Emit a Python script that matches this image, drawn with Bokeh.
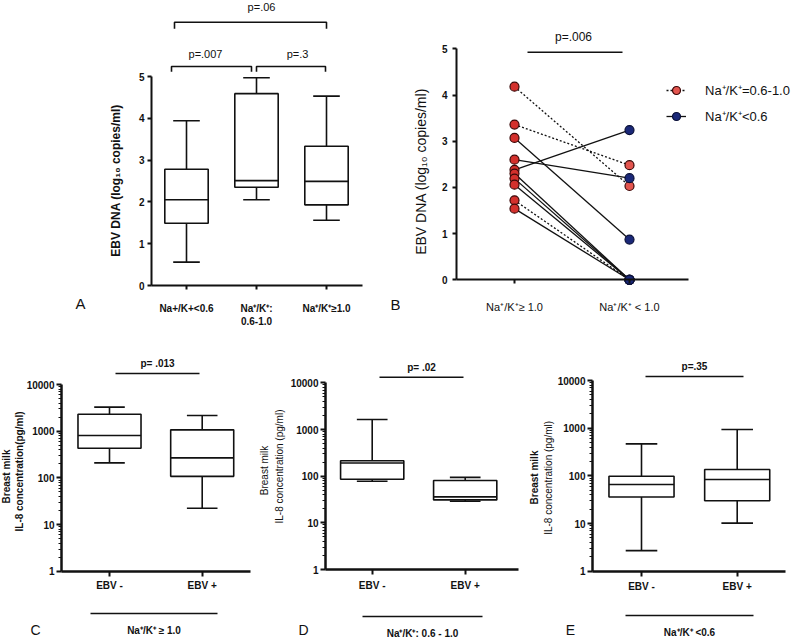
import numpy as np
from bokeh.plotting import figure
from bokeh.models import (Range1d, FixedTicker, PrintfTickFormatter, Legend, LegendItem)
from bokeh.layouts import column, row
from bokeh.embed import file_html
from bokeh.resources import INLINE
from bokeh.core.properties import value

FONT = "Liberation Sans"
INK = "#111111"

# ---------------- Panel A data (EBV DNA, log10 copies/ml) ----------------
a_groups = ["Na+/K+<0.6", "Na⁺/K⁺:\n0.6-1.0", "Na⁺/K⁺≥1.0"]
a_whisk_lo = [0.56, 2.05, 1.56]
a_q1 = [1.49, 2.35, 1.93]
a_median = [2.05, 2.51, 2.49]
a_q3 = [2.78, 4.59, 3.33]
a_whisk_hi = [3.94, 4.97, 4.53]
a_pvalues = ["p=.007", "p=.3", "p=.06"]

# ---------------- Panel B data (paired) ----------------
b_groups = ["Na⁺/K⁺≥ 1.0", "Na⁺/K⁺ < 1.0"]
b_series = ["Na⁺/K⁺=0.6-1.0", "Na⁺/K⁺<0.6"]
b_left_dotted = [4.18, 3.36, 1.72]
b_right_dotted = [2.03, 2.48, 0.0]
b_left_solid = [3.07, 2.60, 2.38, 2.30, 2.19, 2.06, 1.54]
b_right_solid = [0.87, 2.20, 3.24, 0.0, 0.0, 0.0, 0.0]
b_pvalue = "p=.006"

# ---------------- Panels C, D, E data (IL-8, pg/ml) ----------------
il8_groups = ["EBV -", "EBV +"]
c_whisk_lo = [210, 22.4]
c_q1 = [433, 108]
c_median = [809, 269]
c_q3 = [2310, 1070]
c_whisk_hi = [3270, 2170]
d_whisk_lo = [78, 29]
d_q1 = [86, 31]
d_median = [191, 36]
d_q3 = [214, 81]
d_whisk_hi = [1640, 94]
e_whisk_lo = [2.7, 10.2]
e_q1 = [36, 30]
e_median = [66, 84]
e_q3 = [98, 136]
e_whisk_hi = [469, 937]
il8_ticks = [1, 10, 100, 1000, 10000]
ratio_labels = ["Na⁺/K⁺ ≥ 1.0", "Na⁺/K⁺: 0.6 - 1.0", "Na⁺/K⁺ <0.6"]
il8_pvalues = ["p= .013", "p= .02", "p=.35"]


def lin(px, px0, v0, px1, v1):
    return v0 + (px - px0) * (v1 - v0) / (px1 - px0)


def make_fig(wx0, wx1, wy0, wy1, xr, yr, y_type="linear"):
    p = figure(width=wx1 - wx0, height=wy1 - wy0,
               x_range=Range1d(*xr), y_range=Range1d(*yr), y_axis_type=y_type,
               output_backend="svg", toolbar_location=None, title=None,
               min_border=0)
    p.outline_line_color = None
    p.xgrid.visible = False
    p.ygrid.visible = False
    p.background_fill_color = "white"
    p.border_fill_color = "white"
    for ax in (p.xaxis[0], p.yaxis[0]):
        ax.axis_line_color = INK
        ax.major_tick_line_color = INK
        ax.minor_tick_line_color = INK
        ax.major_tick_in = 0
        ax.minor_tick_in = 0
        ax.major_label_text_font = FONT
        ax.major_label_text_color = INK
        ax.major_label_text_font_style = "bold"
    return p


def txt(p, x, y, s, size, style="normal", align="center", angle=0.0, baseline="middle"):
    p.text(x=[x], y=[y], text=[s], text_font=value(FONT), text_font_size=size,
           text_font_style=style, text_align=align, text_baseline=baseline,
           angle=angle, text_color=INK)


def boxes(p, xs, lo, q1, med, q3, hi, w, cw, lw):
    xs = np.asarray(xs, dtype=float)
    p.segment(x0=xs, y0=q3, x1=xs, y1=hi, line_color=INK, line_width=lw)
    p.segment(x0=xs, y0=q1, x1=xs, y1=lo, line_color=INK, line_width=lw)
    p.segment(x0=xs - cw / 2, y0=hi, x1=xs + cw / 2, y1=hi, line_color=INK, line_width=lw)
    p.segment(x0=xs - cw / 2, y0=lo, x1=xs + cw / 2, y1=lo, line_color=INK, line_width=lw)
    p.vbar(x=xs, width=w, bottom=q1, top=q3, fill_color="white", line_color=INK, line_width=lw)
    p.segment(x0=xs - w / 2, y0=med, x1=xs + w / 2, y1=med, line_color=INK, line_width=lw)


# =============== Panel A ===============
ax_ = lambda px: lin(px, 186, 1, 326, 3)
ay_ = lambda py: lin(py, 285, 0, 76, 5)
pA = make_fig(0, 400, 0, 340, (ax_(0), ax_(400)), (ay_(340), ay_(0)))
a_x = list(range(1, len(a_groups) + 1))
xa, ya = pA.xaxis[0], pA.yaxis[0]
xa.fixed_location = 0
xa.bounds = (ax_(151), ax_(362))
xa.ticker = FixedTicker(ticks=a_x)
xa.major_label_overrides = {i: g for i, g in zip(a_x, a_groups)}
xa.major_label_text_font_size = "10px"
xa.major_tick_out = 4
xa.major_label_standoff = 13
xa.axis_line_width = 2
xa.major_tick_line_width = 2
ya.fixed_location = ax_(151)
ya.bounds = (0, 5)
ya.ticker = FixedTicker(ticks=[0, 1, 2, 3, 4, 5])
ya.major_label_text_font_size = "10px"
ya.major_tick_out = 4
ya.major_label_standoff = 3
ya.axis_line_width = 2
ya.major_tick_line_width = 2
boxes(pA, a_x, a_whisk_lo, a_q1, a_median, a_q3, a_whisk_hi, 0.62, 0.38, 1.6)
# significance brackets
yh1, yl1 = ay_(66), ay_(71.3)
yh2, yl2 = ay_(21.7), ay_(28.3)
br = [(ax_(171), ax_(251), yh1, yl1), (ax_(256), ax_(325), yh1, yl1), (ax_(174), ax_(326), yh2, yl2)]
pA.multi_line(xs=[[b[0], b[0], b[1], b[1]] for b in br],
              ys=[[b[3], b[2], b[2], b[3]] for b in br], line_color=INK, line_width=1.6)
for (tx, ty), s in zip([(205, 53), (297, 53), (261, 6)], a_pvalues):
    txt(pA, ax_(tx), ay_(ty), s, "11px")
txt(pA, ax_(115), ay_(180), "EBV DNA (log₁₀ copies/ml)", "12px", "bold", angle=np.pi / 2)
txt(pA, ax_(80), ay_(303), "A", "15px")
txt(pA, ax_(400), ay_(304), "B", "15px", align="right")

# =============== Panel B ===============
bx_ = lambda px: lin(px, 514, 1, 629, 2)
by_ = lambda py: lin(py, 279.3, 0, 48.3, 5)
pB = make_fig(400, 800, 0, 340, (bx_(400), bx_(800)), (by_(340), by_(0)))
xb, yb = pB.xaxis[0], pB.yaxis[0]
xb.fixed_location = 0
xb.bounds = (bx_(456), bx_(688))
xb.ticker = FixedTicker(ticks=[1, 2])
xb.major_label_overrides = {1: b_groups[0], 2: b_groups[1]}
xb.major_label_text_font_style = "normal"
xb.major_label_text_font_size = "11px"
xb.major_tick_out = 4
xb.major_label_standoff = 17
xb.axis_line_width = 2
xb.major_tick_line_width = 2
yb.fixed_location = bx_(456)
yb.bounds = (0, 5)
yb.ticker = FixedTicker(ticks=[0, 1, 2, 3, 4, 5])
yb.major_label_text_font_size = "10px"
yb.major_tick_out = 4
yb.major_label_standoff = 5
yb.axis_line_width = 2
yb.major_tick_line_width = 2
n_d, n_s = len(b_left_dotted), len(b_left_solid)
seg_dot = pB.segment(x0=[1] * n_d, y0=b_left_dotted, x1=[2] * n_d, y1=b_right_dotted,
                     line_color=INK, line_width=1.3, line_dash="2 2")
seg_sol = pB.segment(x0=[1] * n_s, y0=b_left_solid, x1=[2] * n_s, y1=b_right_solid,
                     line_color=INK, line_width=1.3)
pB.scatter(x=[1] * (n_d + n_s), y=b_left_dotted + b_left_solid, size=9,
           fill_color="#d3302c", line_color="#3a0808", line_width=1.2)
sc_red = pB.scatter(x=[2] * n_d, y=b_right_dotted, size=9,
                    fill_color="#e3554f", line_color="#3a0808", line_width=1.2)
sc_blue = pB.scatter(x=[2] * n_s, y=b_right_solid, size=9,
                     fill_color="#1a2878", line_color="#0a1038", line_width=1.2)
pB.segment(x0=[bx_(527)], y0=[by_(51.7)], x1=[bx_(622)], y1=[by_(51.7)], line_color=INK, line_width=1.6)
txt(pB, bx_(573), by_(36), b_pvalue, "12px")
txt(pB, bx_(420), by_(167), "EBV  DNA  (log₁₀ copies/ml)", "14px", angle=np.pi / 2)
legB = Legend(items=[LegendItem(label=b_series[0], renderers=[seg_dot, sc_red]),
                     LegendItem(label=b_series[1], renderers=[seg_sol, sc_blue])],
              location=(266, 214), padding=0, margin=0, spacing=6,
              glyph_width=20, glyph_height=20, label_height=20, label_standoff=19,
              border_line_color=None, background_fill_alpha=0,
              label_text_font=FONT, label_text_font_size="13px", label_text_color=INK)
pB.add_layout(legB)


# =============== Panels C, D, E ===============
def il8_panel(wx0, wx1, xc, yc, axis_x_px, axis_end_px, data, pval, pline, ratio, rline,
              ratio_py, ylabels, std):
    # xc: (px for x=1, px for x=2); yc: (py for 1000, py for 1)
    fx = lambda px: lin(px, xc[0], 1, xc[1], 2)
    fy = lambda py: 10 ** lin(py, yc[1], 0, yc[0], 3)
    p = make_fig(wx0, wx1, 340, 639, (fx(wx0), fx(wx1)), (fy(639), fy(340)), y_type="log")
    xa_, ya_ = p.xaxis[0], p.yaxis[0]
    xa_.fixed_location = 1
    xa_.bounds = (fx(axis_x_px), fx(axis_end_px))
    xa_.ticker = FixedTicker(ticks=[1, 2])
    xa_.major_label_overrides = {1: il8_groups[0], 2: il8_groups[1]}
    xa_.major_label_text_font_size = "10px"
    xa_.major_tick_out = 5
    xa_.major_label_standoff = std
    xa_.axis_line_width = 2.5
    xa_.major_tick_line_width = 2
    ya_.fixed_location = fx(axis_x_px)
    ya_.bounds = (1, 10000)
    ya_.ticker = FixedTicker(ticks=il8_ticks,
                             minor_ticks=[m * 10 ** k for k in range(4) for m in range(2, 10)])
    ya_.formatter = PrintfTickFormatter(format="%d")
    ya_.major_label_text_font_size = "10px"
    ya_.major_tick_out = 5
    ya_.minor_tick_out = 3
    ya_.major_label_standoff = 2
    ya_.axis_line_width = 2.5
    ya_.major_tick_line_width = 2
    ya_.minor_tick_line_width = 1.2
    boxes(p, [1, 2], *data, 0.68, 0.33, 1.6)
    p.segment(x0=[fx(pline[0])], y0=[fy(pline[2])], x1=[fx(pline[1])], y1=[fy(pline[2])],
              line_color=INK, line_width=1.6)
    txt(p, fx((pline[0] + pline[1]) / 2), fy(pline[2] - 10), pval, "10px", "bold")
    p.segment(x0=[fx(rline[0])], y0=[fy(rline[2])], x1=[fx(rline[1])], y1=[fy(rline[2])],
              line_color=INK, line_width=1.3)
    txt(p, fx((rline[0] + rline[1]) / 2), fy(ratio_py), ratio, "10px", "bold")
    for (lx, ly, s, st) in ylabels:
        txt(p, fx(lx), fy(ly), s, "10px", st, angle=np.pi / 2)
    return p, fx, fy


pC, cfx, cfy = il8_panel(0, 255, (109, 201.7), (430.7, 570.8), 61, 250,
                         (c_whisk_lo, c_q1, c_median, c_q3, c_whisk_hi), il8_pvalues[0],
                         (115, 199, 373), ratio_labels[0], (90, 217, 613), 630,
                         [(6, 476, "Breast milk", "bold"), (19, 471, "IL-8 concentration(pg/ml)", "bold")], 4)
txt(pC, cfx(35), cfy(629), "C", "14px")
pD, dfx, dfy = il8_panel(255, 524, (371.7, 464.7), (429, 569), 325, 518,
                         (d_whisk_lo, d_q1, d_median, d_q3, d_whisk_hi), il8_pvalues[1],
                         (379, 463, 376.7), ratio_labels[1], (362, 482, 616), 633,
                         [(264, 470, "Breast milk", "normal"),
                          (279, 466, "IL-8 concentration (pg/ml)", "normal")], 5)
txt(pD, dfx(303), dfy(629), "D", "14px")
pE, efx, efy = il8_panel(524, 800, (641, 736.7), (427.7, 570.7), 592, 785,
                         (e_whisk_lo, e_q1, e_median, e_q3, e_whisk_hi), il8_pvalues[2],
                         (645, 743, 376), ratio_labels[2], (625, 753, 615), 632,
                         [(534, 477, "Breast milk", "bold"),
                          (548, 476, "IL-8 concentration  (pg/ml)", "normal")], 5)
txt(pE, efx(570), efy(629), "E", "14px")

layout = column(row(pA, pB, spacing=0), row(pC, pD, pE, spacing=0), spacing=0)
open("out.html", "w").write(file_html(layout, INLINE))
